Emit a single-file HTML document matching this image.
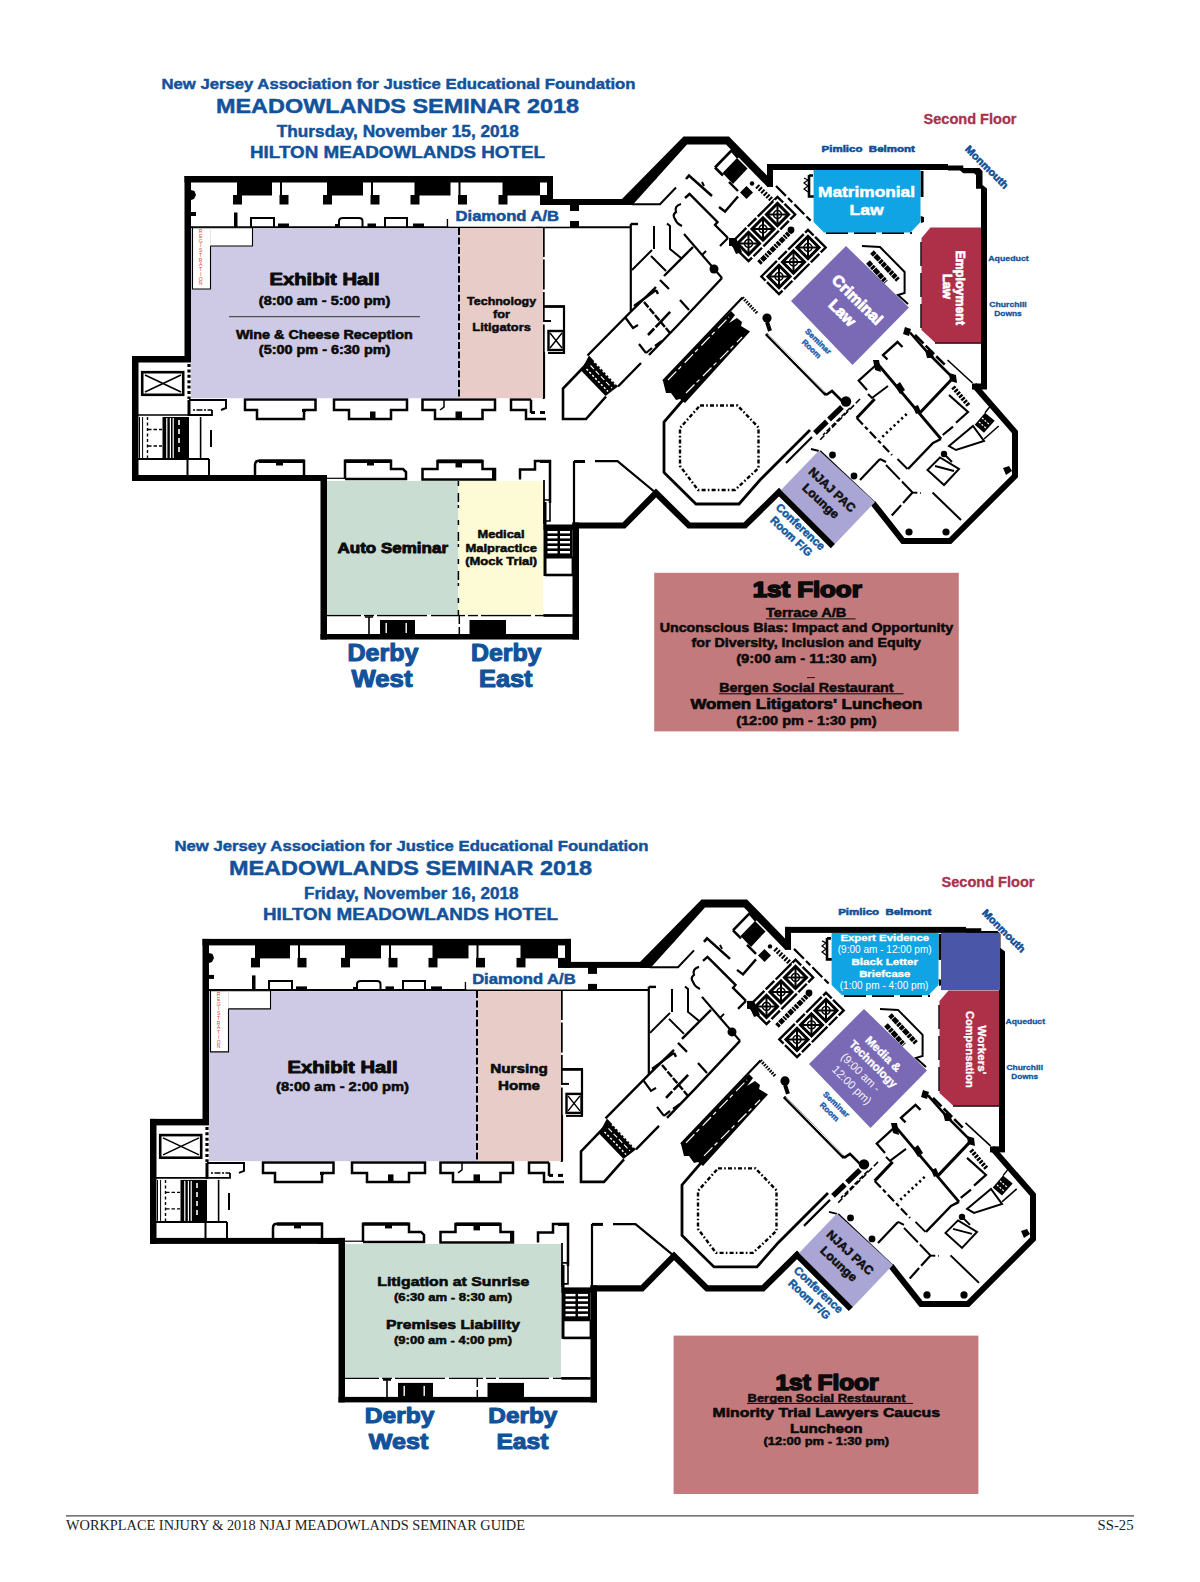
<!DOCTYPE html>
<html><head><meta charset="utf-8"><title>Meadowlands Seminar 2018 Floor Plans</title>
<style>
html,body{margin:0;padding:0;background:#fff;}
body{width:1200px;height:1582px;overflow:hidden;position:relative;font-family:"Liberation Sans",sans-serif;}
svg{position:absolute;left:0;top:0;display:block;}
svg{font-family:"Liberation Sans",sans-serif;}
</style></head><body>
<svg width="1200" height="1582" viewBox="0 0 1200 1582">
<defs>
<g id="elev"><rect x="-7.8" y="-7.8" width="15.6" height="15.6" fill="#fff" stroke="#000" stroke-width="3"/><path d="M-7,-7L7,7M-7,7L7,-7" stroke="#000" stroke-width="2"/><circle r="4" fill="none" stroke="#000" stroke-width="1.5"/></g>
<g id="plan">
<rect x="184.5" y="176" width="368.5" height="6.5" fill="#000"/>
<rect x="184.5" y="176" width="6.5" height="186" fill="#000"/>
<rect x="132" y="356" width="59" height="6.5" fill="#000"/>
<rect x="132" y="356" width="6.5" height="125" fill="#000"/>
<rect x="132" y="475" width="195" height="6" fill="#000"/>
<rect x="320.5" y="475" width="6.5" height="164.5" fill="#000"/>
<rect x="320.5" y="634" width="258.5" height="5.5" fill="#000"/>
<rect x="572.5" y="522.5" width="6.5" height="117.0" fill="#000"/>
<rect x="547" y="176" width="6" height="29" fill="#000"/>
<rect x="540" y="199" width="90" height="6" fill="#000"/>
<polygon points="622,199 683.5,136.5 729,136.5 767.5,176 767.5,187 726,144.5 687,144.5 632.5,205 622,205" fill="#000" />
<rect x="767" y="164" width="6" height="23" fill="#000"/>
<rect x="767" y="164" width="181" height="6" fill="#000"/>
<polygon points="948,165.4 963.3,165.4 963.3,168 979.5,168 982.5,171 982.5,185 987,188.5 987,389 981,389 981,188.8 976,188.8 976,175 974,173.3 963.3,173.3 960,170.6 948,170.6" fill="#000" />
<rect x="972" y="383.5" width="15" height="6.0" fill="#000"/>
<path d="M974,385 L1015,432 L1015,476 L950,541 L903,541 L873,503" fill="none" stroke="#000" stroke-width="6" stroke-linejoin="miter"/>
<path d="M572.5,525.5 L624,525.5 L656,493 L689,525.5 L745,525.5 L779,492 L833,546" fill="none" stroke="#000" stroke-width="6.2" stroke-linejoin="miter"/>
<rect x="237" y="182" width="35" height="13.5" fill="#000"/>
<rect x="233" y="195" width="9" height="9.5" fill="#000"/>
<rect x="279.5" y="195" width="9.0" height="9.5" fill="#000"/>
<path d="M281,182 L281,196" fill="none" stroke="#000" stroke-width="2" />
<rect x="327" y="182" width="36" height="13.5" fill="#000"/>
<rect x="323" y="195" width="9" height="9.5" fill="#000"/>
<rect x="370.5" y="195" width="9.0" height="9.5" fill="#000"/>
<path d="M372,182 L372,196" fill="none" stroke="#000" stroke-width="2" />
<rect x="414.5" y="182" width="36.0" height="13.5" fill="#000"/>
<rect x="410.5" y="195" width="9.0" height="9.5" fill="#000"/>
<rect x="458.0" y="195" width="9.0" height="9.5" fill="#000"/>
<path d="M459.5,182 L459.5,196" fill="none" stroke="#000" stroke-width="2" />
<rect x="502.5" y="182" width="37.5" height="13.5" fill="#000"/>
<rect x="498.5" y="195" width="9.0" height="9.5" fill="#000"/>
<rect x="540" y="195" width="13" height="9.5" fill="#000"/>
<polygon points="191,190 194.5,191 196,195 194,199 191,200" fill="#000" />
<rect x="191" y="212" width="5" height="4" fill="#000"/>
<rect x="234" y="212.5" width="3.5" height="14.5" fill="#000"/>
<path d="M251,227 L251,218 L274,218 L274,227" fill="none" stroke="#000" stroke-width="2" />
<rect x="278" y="223.5" width="11" height="4.0" fill="#000"/>
<path d="M339,227 L339,221 Q339,218 343,218 L359,218 Q362.5,218 362.5,221 L362.5,227" fill="none" stroke="#000" stroke-width="2" />
<rect x="335" y="224" width="4" height="3.5" fill="#000"/>
<rect x="367.5" y="223.5" width="8.5" height="4.0" fill="#000"/>
<path d="M385,227 L385,218 L407,218 L407,227" fill="none" stroke="#000" stroke-width="2" />
<rect x="413" y="223.5" width="11" height="4.0" fill="#000"/>
<path d="M447.5,219 L447.5,227" fill="none" stroke="#000" stroke-width="1.5" />
<path d="M191,227.2 L630,227.2" fill="none" stroke="#000" stroke-width="2" />
<rect x="570" y="204" width="9" height="7" fill="#000"/>
<rect x="570" y="221" width="9" height="7" fill="#000"/>
<rect x="536" y="222" width="5" height="5" fill="#000"/>
<rect x="142.2" y="372.2" width="41" height="22.6" fill="#fff" stroke="#000" stroke-width="2.6"/>
<path d="M145,375 L181,392 M145,392 L181,375" fill="none" stroke="#000" stroke-width="1.6" />
<path d="M138,415 L190,415" fill="none" stroke="#000" stroke-width="1.6" />
<rect x="162.5" y="417" width="26.5" height="41.5" fill="#000"/>
<rect x="166.2" y="418" width="1.2" height="40" fill="#fff"/>
<rect x="169.8" y="418" width="1.2" height="40" fill="#fff"/>
<rect x="172.6" y="418" width="1.2" height="40" fill="#fff"/>
<path d="M179,420 L179,456" stroke="#fff" stroke-width="1.6" stroke-dasharray="5,4" fill="none"/>
<path d="M139.5,417 L139.5,458 M142.6,417 L142.6,458" fill="none" stroke="#000" stroke-width="1" />
<path d="M147.5,417 L147.5,458" fill="none" stroke="#000" stroke-width="1.4" stroke-dasharray="3,2.5"/>
<path d="M148,429.5 L162,429.5 M148,446 L162,446" fill="none" stroke="#000" stroke-width="1.4" stroke-dasharray="3.5,2"/>
<path d="M138,459 L209,459" fill="none" stroke="#000" stroke-width="2" />
<path d="M187.5,459 L187.5,475 M209,459 L209,475" fill="none" stroke="#000" stroke-width="2" />
<path d="M200.6,417 L200.6,459" fill="none" stroke="#000" stroke-width="1.6" />
<path d="M189,400 L189,416" fill="none" stroke="#000" stroke-width="3" />
<path d="M189,400 L226,400 L226,408 L221,410" fill="none" stroke="#000" stroke-width="2" />
<path d="M189,415 L212,415 L212,410" fill="none" stroke="#000" stroke-width="1.8" />
<path d="M193,410 L212,410" fill="none" stroke="#000" stroke-width="1.5" stroke-dasharray="2,1.5,6,1.5"/>
<path d="M211,430 L211,447" fill="none" stroke="#000" stroke-width="2" />
<path d="M189,364 L189,399" stroke="#000" stroke-width="3.2" stroke-dasharray="3,2.4" fill="none"/>
<path d="M245,399.6 L315.5,399.6 L315.5,410 L304,410 L304,419 L257,419 L257,410 L245,410 Z" fill="none" stroke="#000" stroke-width="2.5" />
<rect x="302" y="409" width="4" height="3" fill="#000"/>
<path d="M334,399.6 L407,399.6 L407,410 L391,410 L391,419 L349,419 L349,410 L334,410 Z" fill="none" stroke="#000" stroke-width="2.5" />
<rect x="370" y="411.5" width="5.5" height="7.5" fill="#000"/>
<path d="M422.5,399.6 L495,399.6 L495,410 L482.5,410 L482.5,419 L435,419 L435,410 L422.5,410 Z" fill="none" stroke="#000" stroke-width="2.5" />
<path d="M444,400 L444,407 L440,410" fill="none" stroke="#000" stroke-width="1.5" />
<rect x="455.5" y="411.5" width="6.5" height="7.5" fill="#000"/>
<path d="M531,399.6 L511,399.6 L511,410 L526,410 L526,419 L546,419" fill="none" stroke="#000" stroke-width="2.5" />
<path d="M531,399.6 L531,413" fill="none" stroke="#000" stroke-width="2.5" />
<rect x="531" y="411" width="4" height="3" fill="#000"/>
<rect x="540" y="411" width="5" height="3" fill="#000"/>
<path d="M255,475 L255,465 Q255,460.8 259,460.8 L304,460.8 L304,475" fill="none" stroke="#000" stroke-width="2.5" />
<rect x="276" y="460.5" width="7" height="5.0" fill="#000"/>
<path d="M345,479 L345,460.8 L391,460.8 L391,469 L403,469 L406,472 L406,479 L345,479" fill="none" stroke="#000" stroke-width="2.5" />
<rect x="367" y="460.5" width="7" height="5.0" fill="#000"/>
<path d="M422.5,479.5 L422.5,469 L437.5,469 L437.5,461 L482.5,461 L482.5,469 L495,469 L495,479.5 Z" fill="none" stroke="#000" stroke-width="2.5" />
<rect x="455.5" y="461" width="6.5" height="6.5" fill="#000"/>
<path d="M437.5,461.4 L482.5,461.4" fill="none" stroke="#000" stroke-width="3.6" />
<path d="M259,461.2 L304,461.2" fill="none" stroke="#000" stroke-width="3.4" />
<path d="M345,461.2 L391,461.2" fill="none" stroke="#000" stroke-width="3.4" />
<rect x="492" y="469" width="4" height="11" fill="#000"/>
<path d="M520,479.5 L520,469.5 L535,469.5 L535,461 L550,461 L550,503" fill="none" stroke="#000" stroke-width="2.5" />
<rect x="540" y="460" width="11" height="3" fill="#000"/>
<rect x="300" y="476" width="27" height="5" fill="#000"/>
<path d="M327,478.3 L345,478.3" fill="none" stroke="#000" stroke-width="1.2" />
<path d="M327,615.3 L572.5,615.3" fill="none" stroke="#000" stroke-width="1.8" stroke-dasharray="34,3,10,3,50,4"/>
<rect x="380" y="620" width="35" height="14.5" fill="#000"/>
<rect x="469.5" y="620" width="36.5" height="14.5" fill="#000"/>
<rect x="385.5" y="623" width="1.4" height="10" fill="#fff"/><rect x="405.5" y="623" width="1.4" height="10" fill="#fff"/>
<path d="M365,617 L373,617 M369,617 L369,634" fill="none" stroke="#000" stroke-width="1.6" />
<path d="M459.3,616 L459.3,634" fill="none" stroke="#000" stroke-width="1.5" stroke-dasharray="8,3"/>
<path d="M544,480 L544,524" fill="none" stroke="#000" stroke-width="1.8" />
<path d="M544,500 L550,500 M544,521 L550,521 L550,503" fill="none" stroke="#000" stroke-width="1.6" />
<rect x="545" y="527.5" width="27.5" height="30" fill="#000"/>
<rect x="547.5" y="531" width="10" height="2.4" fill="#fff"/><rect x="560" y="531" width="10" height="2.4" fill="#fff"/>
<rect x="547.5" y="536" width="10" height="2.4" fill="#fff"/><rect x="560" y="536" width="10" height="2.4" fill="#fff"/>
<rect x="547.5" y="541" width="10" height="2.4" fill="#fff"/><rect x="560" y="541" width="10" height="2.4" fill="#fff"/>
<rect x="547.5" y="546" width="10" height="2.4" fill="#fff"/><rect x="560" y="546" width="10" height="2.4" fill="#fff"/>
<rect x="547.5" y="551" width="10" height="2.4" fill="#fff"/><rect x="560" y="551" width="10" height="2.4" fill="#fff"/>
<path d="M545,557.5 L572.5,557.5 L572.5,575 L545,575" fill="none" stroke="#000" stroke-width="1.8" />
<rect x="543.5" y="524.5" width="35.5" height="5.5" fill="#000"/>
<rect x="543.5" y="502" width="3.0" height="74" fill="#000"/>
<path d="M545,575 L573,575" fill="none" stroke="#000" stroke-width="2.6" />
<path d="M543.5,615.5 L572.5,615.5" fill="none" stroke="#000" stroke-width="2.6" />
<path d="M543.7,227 L543.7,399" fill="none" stroke="#000" stroke-width="2" stroke-dasharray="30,2.5"/>
<path d="M544,306.5 L565,306.5" fill="none" stroke="#000" stroke-width="2.8" />
<path d="M564,306 L564,353" fill="none" stroke="#000" stroke-width="2.2" />
<rect x="548.5" y="331" width="15" height="19" fill="#fff" stroke="#000" stroke-width="2.4"/>
<path d="M550,333 L562,348 M550,348 L562,333" fill="none" stroke="#000" stroke-width="1.5" />
<path d="M544,321 L551,321" fill="none" stroke="#000" stroke-width="2" />
<path d="M548,353 L565,353" fill="none" stroke="#000" stroke-width="2" />
<path d="M544,352 L544,398" fill="none" stroke="#000" stroke-width="2.2" />
<path d="M632,204.3 L660,204.3 L676,187.5" fill="none" stroke="#000" stroke-width="2" />
<path d="M630.8,223.8 L630.8,311" fill="none" stroke="#000" stroke-width="2.2" />
<path d="M630.8,224 L638,224" fill="none" stroke="#000" stroke-width="2.4" />
<path d="M654,226 L654,249" fill="none" stroke="#000" stroke-width="2" />
<path d="M667,223.5 L670,226 L670,249 L681,258" fill="none" stroke="#000" stroke-width="2" />
<path d="M589.5,361 L563,388.5 L563,419 L586,419 L606,396.5" fill="none" stroke="#000" stroke-width="2.6" stroke-linejoin="miter"/>
<polygon points="589,355.5 618,386.5 605.5,396 581,370.5" fill="#000" />
<path d="M586.5,369 L608,391.5 M594,361.5 L615.5,384.5" stroke="#fff" stroke-width="1.5" stroke-dasharray="2.2,2" fill="none"/>
<path d="M590.5,365.5 L612,388" stroke="#fff" stroke-width="1.1" stroke-dasharray="5,2.5" fill="none"/>
<path d="M587.5,355.5 L631,311.5 L656,287" fill="none" stroke="#000" stroke-width="2.4" />
<path d="M618,386.5 L641,363 M649,355 L677,326 L722,278" fill="none" stroke="#000" stroke-width="2.4" />
<path d="M632,270 L652,250 M651,256 L666,271" fill="none" stroke="#000" stroke-width="2" />
<path d="M664,276 L693,247" fill="none" stroke="#000" stroke-width="2.4" />
<path d="M684,234 L722,278" fill="none" stroke="#000" stroke-width="2.2" />
<circle cx="714" cy="269" r="4.5" fill="#000"/>
<path d="M660,280 L669,289" fill="none" stroke="#000" stroke-width="2.2" />
<path d="M634,306 L656,290 M656,290 L658,294" fill="none" stroke="#000" stroke-width="2.4" />
<path d="M644,302 L670,333" fill="none" stroke="#000" stroke-width="2.4" stroke-dasharray="7,1.5"/>
<path d="M648,335 L671,311" fill="none" stroke="#000" stroke-width="2.6" stroke-dasharray="9,2,12,0"/>
<path d="M625,317 L633,328 L638,325" fill="none" stroke="#000" stroke-width="2.2" />
<path d="M639,344 L646,353 M646,353 L652,348 M655,346 L662,341" fill="none" stroke="#000" stroke-width="2.2" />
<path d="M680,300 L689,310" fill="none" stroke="#000" stroke-width="2.2" />
<polygon points="737,158 747.5,168.5 733,184 722.5,173" fill="#000" />
<path d="M715,167.5 L731.5,150.5 L738,158 M715,167.5 L723,175.5" fill="none" stroke="#000" stroke-width="2.6" />
<path d="M729,182 L738,191" fill="none" stroke="#000" stroke-width="2.4" />
<polygon points="746.5,186 753,192.5 746.5,199 740,192.5" fill="#000" />
<path d="M738,196.5 L725,211.5 L719,207" fill="none" stroke="#000" stroke-width="2.4" />
<path d="M686,179 L689,175.5 L712,196" fill="none" stroke="#000" stroke-width="2.6" />
<path d="M702,182 L704,186" fill="none" stroke="#000" stroke-width="2" />
<path d="M685,198 L689.5,194 L717.5,222 L715,225 L728,238" fill="none" stroke="#000" stroke-width="2.4" />
<path d="M681,204 Q674,206 676,212 Q672,215 675,219 Q677,224 682,226" fill="none" stroke="#000" stroke-width="2.2" />
<path d="M706,251 L702,255" fill="none" stroke="#000" stroke-width="2" />
<path d="M728,238 L720,246 M733,243 L738,238" fill="none" stroke="#000" stroke-width="2.2" />
<rect x="729" y="238" width="7" height="8" fill="#000"/>
<polygon points="646,176 653,172 657,178 650,184" fill="#000" />
<polygon points="640,186 645,183 647,188 642,191" fill="#000" />
<circle cx="752" cy="183.5" r="2.2" fill="#000"/>
<path d="M757,186 L774,202" fill="none" stroke="#000" stroke-width="5" stroke-dasharray="2,1.5"/>
<path d="M776,186 L812,222" fill="none" stroke="#000" stroke-width="2.2" stroke-dasharray="14,3,6,3"/>
<g transform="translate(763,229) rotate(-45)"><rect x="-33" y="-12.5" width="66" height="25" fill="#fff" stroke="#000" stroke-width="2.4" stroke-dasharray="22,2,12,2"/><use href="#elev" x="-20.5"/><use href="#elev" x="0"/><use href="#elev" x="20.5"/></g>
<g transform="translate(793.5,262) rotate(-45)"><rect x="-33" y="-12.5" width="66" height="25" fill="#fff" stroke="#000" stroke-width="2.4" stroke-dasharray="22,2,12,2"/><use href="#elev" x="-20.5"/><use href="#elev" x="0"/><use href="#elev" x="20.5"/></g>
<path d="M759,263 L792,230" fill="none" stroke="#000" stroke-width="5" stroke-dasharray="3,1,5,1,2,1"/>
<circle cx="791" cy="230" r="3.4" fill="#000"/>
<polygon points="731,243 736,238 742,252 736,254" fill="#000" />
<path d="M809,175 L809,196.5 L814,196.5 M809,175.5 L813,175.5" fill="none" stroke="#000" stroke-width="2.6" />
<path d="M804,178 L808,180 L804,183 L808,186 L804,189 L808,192" fill="none" stroke="#000" stroke-width="1.2" />
<path d="M922,171 L922,197" fill="none" stroke="#000" stroke-width="3" />
<polygon points="920.5,216 924,217 924,222 921,223" fill="#000" />
<path d="M826,233 L912,233" fill="none" stroke="#000" stroke-width="2.2" stroke-dasharray="22,6"/>
<path d="M921.5,242 L921.5,330" fill="none" stroke="#000" stroke-width="2.4" stroke-dasharray="24,7"/>
<path d="M935,342.8 L981,342.8" fill="none" stroke="#000" stroke-width="2" />
<path d="M862,246 L880,247 L904.6,272 L904.6,293 L898,295 L908,304" fill="none" stroke="#000" stroke-width="2" />
<path d="M872,252 L898,280" fill="none" stroke="#000" stroke-width="5" stroke-dasharray="4,0.8,6,0.8,3,0.8"/>
<path d="M868,262 L886,282" fill="none" stroke="#000" stroke-width="5" stroke-dasharray="5,0.8,3,0.8,6,0.8"/>
<polygon points="663,381 731,311 735,315 729,323 737,318 742,322 741,326 750,331.5 685,403 680,399 676,400 671,393 666,393" fill="#000" />
<path d="M668,380 L729,317 M686,393 L742,337" stroke="#fff" stroke-width="1.2" stroke-dasharray="12,3,4,5" fill="none"/>
<path d="M742.5,297.5 L663,381" fill="none" stroke="#000" stroke-width="2.2" />
<path d="M742.5,297.5 L757,313" fill="none" stroke="#000" stroke-width="3.2" stroke-dasharray="1.6,1.2"/>
<circle cx="767" cy="318" r="4.6" fill="#000"/>
<path d="M767,322 L770,331" fill="none" stroke="#000" stroke-width="4" />
<path d="M766,334 L826,395" fill="none" stroke="#000" stroke-width="3" />
<path d="M768,334.5 L825,392.5" stroke="#fff" stroke-width="1" fill="none"/>
<path d="M826,395 L832,391 L843,402" fill="none" stroke="#000" stroke-width="2.6" />
<circle cx="846" cy="401.5" r="5.2" fill="#000"/>
<path d="M842,407 L815,433" fill="none" stroke="#000" stroke-width="5.4" stroke-dasharray="18,3"/>
<path d="M850,408 L823,435" fill="none" stroke="#000" stroke-width="1.6" stroke-dasharray="5,2"/>
<path d="M810,430 L760,480 L739,504 L696,504 L664,472.5 L664,422 L683,400" fill="none" stroke="#000" stroke-width="2.8" stroke-linejoin="miter"/>
<path d="M700,405.5 L737.5,405.5 L758.5,427.5 L758.5,468 L735,490 L698,490 L680,466 L680,428 Z" fill="none" stroke="#000" stroke-width="2.4" stroke-dasharray="4,2.2,1.6,2.2"/>
<path d="M574,461 L574,525" fill="none" stroke="#000" stroke-width="2.2" />
<path d="M574,461.5 L585,461.5" fill="none" stroke="#000" stroke-width="3" />
<path d="M595,461.2 L617.5,461.2 L656,493" fill="none" stroke="#000" stroke-width="2.2" />
<path d="M812,437 L786,463" fill="none" stroke="#000" stroke-width="2.2" />
<path d="M860,399 L820,440" fill="none" stroke="#000" stroke-width="1.6" stroke-dasharray="6,2.5"/>
<path d="M811,449 L819,451" fill="none" stroke="#000" stroke-width="2" />
<circle cx="832.5" cy="455" r="3.4" fill="#000"/><circle cx="854" cy="476" r="3.4" fill="#000"/>
<path d="M820,451 L875,503" fill="none" stroke="#000" stroke-width="2" />
<path d="M876,362 L941,439" fill="none" stroke="#000" stroke-width="2.8" />
<polygon points="873,360 879,360 881,372 875,370" fill="#000" />
<polygon points="895,386 900,382 905,390 900,394" fill="#000" />
<polygon points="913,407 918,405 921,412 916,414" fill="#000" />
<path d="M876,365 L858.7,380.7 L867,390" fill="none" stroke="#000" stroke-width="2.2" />
<path d="M888,386 L872,398 L868,394" fill="none" stroke="#000" stroke-width="2" />
<path d="M874.7,399 L856.7,418" fill="none" stroke="#000" stroke-width="3" />
<path d="M856.7,418 L892,455" fill="none" stroke="#000" stroke-width="2.2" stroke-dasharray="9,3,4,3"/>
<path d="M906.7,414 L880,439" fill="none" stroke="#000" stroke-width="2.6" stroke-dasharray="2.2,3"/>
<path d="M887.5,359.5 L883,355 L897.5,342 L902.5,347" fill="none" stroke="#000" stroke-width="2.4" />
<polygon points="905,327 911,329 909,336 903,334" fill="#000" />
<path d="M910,332.5 L929,354 L953,378" fill="none" stroke="#000" stroke-width="2.6" />
<polygon points="925,350 932,350 934,358 927,358" fill="#000" />
<polygon points="949,373 956,375 957,383 950,381" fill="#000" />
<path d="M953,378 L920,412.7" fill="none" stroke="#000" stroke-width="3" />
<path d="M915,335 L945,365" fill="none" stroke="#000" stroke-width="2.6" stroke-dasharray="12,3"/>
<path d="M947.5,360 L972.5,383" fill="none" stroke="#000" stroke-width="1.6" />
<path d="M949,395 L968,412 L956,422.7 M953,426.7 L942.7,435" fill="none" stroke="#000" stroke-width="2.2" />
<path d="M953,387 L969,406" fill="none" stroke="#000" stroke-width="4.6" stroke-dasharray="2.4,1.2"/>
<path d="M949,446 L973,426 L984,441 L956,450 Z" fill="none" stroke="#000" stroke-width="2" />
<polygon points="974.7,424.7 985,412.7 994.7,420.7 984,432.7" fill="#000" />
<path d="M979,422 L987,429 M982,418 L990,425" stroke="#fff" stroke-width="1.2" stroke-dasharray="2,1.5" fill="none"/>
<path d="M984,439 L998.7,426" fill="none" stroke="#000" stroke-width="1.6" />
<path d="M985,412.7 L992,404" fill="none" stroke="#000" stroke-width="1.5" />
<polygon points="1003,468 1009,466 1012,471 1006,475" fill="#000" />
<path d="M941,439 L933,443 L908,469" fill="none" stroke="#000" stroke-width="2.4" />
<path d="M897.5,459 L907.5,469" fill="none" stroke="#000" stroke-width="2" />
<circle cx="944" cy="454" r="3.2" fill="#000"/>
<path d="M944,454 L952,462" fill="none" stroke="#000" stroke-width="2" />
<path d="M880,459 L860,480" fill="none" stroke="#000" stroke-width="2.2" />
<path d="M880,459 L886,462" fill="none" stroke="#000" stroke-width="2" />
<path d="M886,465 L912.5,492.5 L921,493" fill="none" stroke="#000" stroke-width="2" stroke-dasharray="20,3"/>
<path d="M912.5,492.5 L890,517.5" fill="none" stroke="#000" stroke-width="2.2" stroke-dasharray="14,3"/>
<path d="M932.5,492.5 L961,520" fill="none" stroke="#000" stroke-width="2" />
<path d="M927.5,470 L940,457.5 L959,469 L944,485 Z M935,466 L954,471" fill="none" stroke="#000" stroke-width="2" />
<circle cx="909" cy="532" r="3.6" fill="#000"/><circle cx="946" cy="532" r="3.6" fill="#000"/>
</g>
</defs>
<g transform="translate(0,0)">
<use href="#plan"/>
<rect x="191" y="228.2" width="268.3" height="170" fill="#cecae5"/>
<rect x="459.3" y="228.2" width="83.7" height="170" fill="#e7ccc8"/>
<path d="M459,228 L459,398" stroke="#000" stroke-width="2" stroke-dasharray="7,2.5" fill="none"/>
<polygon points="192.5,227.8 252.5,227.8 252.5,246 210.5,246 210.5,289 192.5,289" fill="#fff" stroke="#000" stroke-width="1.1"/>
<path d="M210.5,228.5 L210.5,245.5" stroke="#e4e4e4" stroke-width="1"/>
<text x="200.6" y="233.2" font-size="5" text-anchor="middle" fill="#d4472b" font-weight="normal">R</text>
<text x="200.6" y="237.9" font-size="5" text-anchor="middle" fill="#d4472b" font-weight="normal">E</text>
<text x="200.6" y="242.7" font-size="5" text-anchor="middle" fill="#d4472b" font-weight="normal">G</text>
<text x="200.6" y="247.4" font-size="5" text-anchor="middle" fill="#d4472b" font-weight="normal">I</text>
<text x="200.6" y="252.2" font-size="5" text-anchor="middle" fill="#d4472b" font-weight="normal">S</text>
<text x="200.6" y="256.9" font-size="5" text-anchor="middle" fill="#d4472b" font-weight="normal">T</text>
<text x="200.6" y="261.7" font-size="5" text-anchor="middle" fill="#d4472b" font-weight="normal">R</text>
<text x="200.6" y="266.4" font-size="5" text-anchor="middle" fill="#d4472b" font-weight="normal">A</text>
<text x="200.6" y="271.2" font-size="5" text-anchor="middle" fill="#d4472b" font-weight="normal">T</text>
<text x="200.6" y="275.9" font-size="5" text-anchor="middle" fill="#d4472b" font-weight="normal">I</text>
<text x="200.6" y="280.7" font-size="5" text-anchor="middle" fill="#d4472b" font-weight="normal">O</text>
<text x="200.6" y="285.4" font-size="5" text-anchor="middle" fill="#d4472b" font-weight="normal">N</text>
<rect x="448.5" y="206" width="121.5" height="20.6" fill="#fff"/>
<text x="507.3" y="220.6" font-size="14.6" text-anchor="middle" fill="#12529a" font-weight="bold" font-family="Liberation Sans" textLength="103.5" lengthAdjust="spacingAndGlyphs" stroke="#12529a" stroke-width="0.5" stroke-linejoin="round" >Diamond A/B</text>
<text x="383" y="660.7" font-size="23" text-anchor="middle" fill="#12529a" font-weight="bold" font-family="Liberation Sans" textLength="71" lengthAdjust="spacingAndGlyphs" stroke="#12529a" stroke-width="1.1" stroke-linejoin="round" >Derby</text>
<text x="382" y="686.8" font-size="23" text-anchor="middle" fill="#12529a" font-weight="bold" font-family="Liberation Sans" textLength="61" lengthAdjust="spacingAndGlyphs" stroke="#12529a" stroke-width="1.1" stroke-linejoin="round" >West</text>
<text x="506.2" y="660.7" font-size="23" text-anchor="middle" fill="#12529a" font-weight="bold" font-family="Liberation Sans" textLength="70.5" lengthAdjust="spacingAndGlyphs" stroke="#12529a" stroke-width="1.1" stroke-linejoin="round" >Derby</text>
<text x="505.8" y="686.8" font-size="23" text-anchor="middle" fill="#12529a" font-weight="bold" font-family="Liberation Sans" textLength="53.5" lengthAdjust="spacingAndGlyphs" stroke="#12529a" stroke-width="1.1" stroke-linejoin="round" >East</text>
<text x="970" y="123.8" font-size="13.8" text-anchor="middle" fill="#a7324d" font-weight="bold" font-family="Liberation Sans" textLength="93" lengthAdjust="spacingAndGlyphs" stroke="#a7324d" stroke-width="0.3" stroke-linejoin="round" >Second Floor</text>
<text x="868.2" y="152" font-size="9.4" text-anchor="middle" fill="#0f4f98" font-weight="bold" font-family="Liberation Sans" textLength="93.2" lengthAdjust="spacingAndGlyphs" stroke="#0f4f98" stroke-width="0.55" stroke-linejoin="round" >Pimlico&#160;&#160;Belmont</text>
<g transform="translate(987.0,167.0) rotate(45)"><text x="0" y="3.67" font-size="10.2" text-anchor="middle" fill="#0f4f98" font-weight="bold" font-family="Liberation Sans" textLength="56" lengthAdjust="spacingAndGlyphs" stroke="#0f4f98" stroke-width="0.55" stroke-linejoin="round" >Monmouth</text></g>
<text x="1008.5" y="261" font-size="7.8" text-anchor="middle" fill="#12529a" font-weight="bold" font-family="Liberation Sans" textLength="40.5" lengthAdjust="spacingAndGlyphs" stroke="#12529a" stroke-width="0.3" stroke-linejoin="round" >Aqueduct</text>
<text x="1008.0" y="307" font-size="7.8" text-anchor="middle" fill="#12529a" font-weight="bold" font-family="Liberation Sans" textLength="37.5" lengthAdjust="spacingAndGlyphs" stroke="#12529a" stroke-width="0.3" stroke-linejoin="round" >Churchill</text>
<text x="1008.0" y="316" font-size="7.8" text-anchor="middle" fill="#12529a" font-weight="bold" font-family="Liberation Sans" textLength="27.5" lengthAdjust="spacingAndGlyphs" stroke="#12529a" stroke-width="0.3" stroke-linejoin="round" >Downs</text>
<g transform="translate(818.4,341.3) rotate(44)"><text x="0" y="2.81" font-size="7.8" text-anchor="middle" fill="#1a5cae" font-weight="bold" font-family="Liberation Sans" textLength="33" lengthAdjust="spacingAndGlyphs" stroke="#1a5cae" stroke-width="0.4" stroke-linejoin="round" >Seminar</text></g>
<g transform="translate(811.6,348.8) rotate(44)"><text x="0" y="2.81" font-size="7.8" text-anchor="middle" fill="#1a5cae" font-weight="bold" font-family="Liberation Sans" textLength="23.5" lengthAdjust="spacingAndGlyphs" stroke="#1a5cae" stroke-width="0.4" stroke-linejoin="round" >Room</text></g>
<polygon points="819,450.5 875,502 835,544 781,490" fill="#a9a5d4"/>
<g transform="translate(832.3,489.6) rotate(43)"><text x="0" y="4.39" font-size="12.2" text-anchor="middle" fill="#111" font-weight="bold" font-family="Liberation Sans" textLength="59" lengthAdjust="spacingAndGlyphs" stroke="#111" stroke-width="0.55" stroke-linejoin="round" >NJAJ PAC</text></g>
<g transform="translate(821,500.8) rotate(43)"><text x="0" y="4.39" font-size="12.2" text-anchor="middle" fill="#111" font-weight="bold" font-family="Liberation Sans" textLength="45" lengthAdjust="spacingAndGlyphs" stroke="#111" stroke-width="0.55" stroke-linejoin="round" >Lounge</text></g>
<g transform="translate(800.6,526.6) rotate(43)"><text x="0" y="4.1" font-size="11.4" text-anchor="middle" fill="#125a9f" font-weight="bold" font-family="Liberation Sans" textLength="62.5" lengthAdjust="spacingAndGlyphs" stroke="#125a9f" stroke-width="0.5" stroke-linejoin="round" >Conference</text></g>
<g transform="translate(791.5,536.2) rotate(43)"><text x="0" y="4.1" font-size="11.4" text-anchor="middle" fill="#125a9f" font-weight="bold" font-family="Liberation Sans" textLength="52.5" lengthAdjust="spacingAndGlyphs" stroke="#125a9f" stroke-width="0.5" stroke-linejoin="round" >Room F/G</text></g>
<polygon points="930.5,227.6 981,227.6 981,342.6 935,342.6 921.5,330 921.5,238" fill="#ae2f48"/>
<polygon points="846,246 909,307.5 852.5,365 791,301" fill="#7a69b4"/>
<polygon points="813.6,170 920.5,170 920.5,222 910.5,232.4 824,232.4 813.6,222" fill="#10a4e4"/>
<rect x="327" y="481" width="131.4" height="133.8" fill="#c9ddd3"/>
<rect x="458.4" y="481" width="84.6" height="133.8" fill="#fdfbd6"/>
<path d="M458.4,481 L458.4,615" stroke="#000" stroke-width="1.5" stroke-dasharray="5,7,9,3,3,12" fill="none"/>
<text x="324.5" y="285" font-size="16.2" text-anchor="middle" fill="#0b0b0b" font-weight="bold" font-family="Liberation Sans" textLength="110" lengthAdjust="spacingAndGlyphs" stroke="#0b0b0b" stroke-width="0.9" stroke-linejoin="round" >Exhibit Hall</text>
<text x="324.6" y="305" font-size="12" text-anchor="middle" fill="#0b0b0b" font-weight="bold" font-family="Liberation Sans" textLength="131.5" lengthAdjust="spacingAndGlyphs" stroke="#0b0b0b" stroke-width="0.55" stroke-linejoin="round" >(8:00 am - 5:00 pm)</text>
<path d="M229,316.7 L420,316.7" stroke="#222" stroke-width="0.9"/>
<text x="324.4" y="338.8" font-size="12" text-anchor="middle" fill="#0b0b0b" font-weight="bold" font-family="Liberation Sans" textLength="177" lengthAdjust="spacingAndGlyphs" stroke="#0b0b0b" stroke-width="0.55" stroke-linejoin="round" >Wine &amp; Cheese Reception</text>
<text x="324.6" y="353.8" font-size="12" text-anchor="middle" fill="#0b0b0b" font-weight="bold" font-family="Liberation Sans" textLength="131.5" lengthAdjust="spacingAndGlyphs" stroke="#0b0b0b" stroke-width="0.55" stroke-linejoin="round" >(5:00 pm - 6:30 pm)</text>
<text x="501.6" y="304.5" font-size="11.6" text-anchor="middle" fill="#0b0b0b" font-weight="bold" font-family="Liberation Sans" textLength="69" lengthAdjust="spacingAndGlyphs" stroke="#0b0b0b" stroke-width="0.5" stroke-linejoin="round" >Technology</text>
<text x="501.6" y="317.6" font-size="11.6" text-anchor="middle" fill="#0b0b0b" font-weight="bold" font-family="Liberation Sans" textLength="17" lengthAdjust="spacingAndGlyphs" stroke="#0b0b0b" stroke-width="0.5" stroke-linejoin="round" >for</text>
<text x="501.6" y="331" font-size="11.6" text-anchor="middle" fill="#0b0b0b" font-weight="bold" font-family="Liberation Sans" textLength="58.5" lengthAdjust="spacingAndGlyphs" stroke="#0b0b0b" stroke-width="0.5" stroke-linejoin="round" >Litigators</text>
<text x="392.8" y="553" font-size="15.2" text-anchor="middle" fill="#0b0b0b" font-weight="bold" font-family="Liberation Sans" textLength="110.5" lengthAdjust="spacingAndGlyphs" stroke="#0b0b0b" stroke-width="0.9" stroke-linejoin="round" >Auto Seminar</text>
<text x="501" y="538" font-size="11" text-anchor="middle" fill="#0b0b0b" font-weight="bold" font-family="Liberation Sans" textLength="47" lengthAdjust="spacingAndGlyphs" stroke="#0b0b0b" stroke-width="0.5" stroke-linejoin="round" >Medical</text>
<text x="501.2" y="551.8" font-size="11" text-anchor="middle" fill="#0b0b0b" font-weight="bold" font-family="Liberation Sans" textLength="71.5" lengthAdjust="spacingAndGlyphs" stroke="#0b0b0b" stroke-width="0.5" stroke-linejoin="round" >Malpractice</text>
<text x="501.2" y="565" font-size="11" text-anchor="middle" fill="#0b0b0b" font-weight="bold" font-family="Liberation Sans" textLength="72" lengthAdjust="spacingAndGlyphs" stroke="#0b0b0b" stroke-width="0.5" stroke-linejoin="round" >(Mock Trial)</text>
<text x="866.5" y="197" font-size="15.4" text-anchor="middle" fill="#fff" font-weight="bold" font-family="Liberation Sans" textLength="97" lengthAdjust="spacingAndGlyphs" stroke="#fff" stroke-width="0.5" stroke-linejoin="round" >Matrimonial</text>
<text x="866.5" y="215" font-size="15.4" text-anchor="middle" fill="#fff" font-weight="bold" font-family="Liberation Sans" textLength="34" lengthAdjust="spacingAndGlyphs" stroke="#fff" stroke-width="0.5" stroke-linejoin="round" >Law</text>
<g transform="translate(857.5,299.5) rotate(44.5)"><text x="0" y="5.62" font-size="15.6" text-anchor="middle" fill="#fff" font-weight="bold" font-family="Liberation Sans" textLength="64" lengthAdjust="spacingAndGlyphs" stroke="#fff" stroke-width="0.85" stroke-linejoin="round" >Criminal</text></g>
<g transform="translate(842.5,312.5) rotate(44.5)"><text x="0" y="5.62" font-size="15.6" text-anchor="middle" fill="#fff" font-weight="bold" font-family="Liberation Sans" textLength="31" lengthAdjust="spacingAndGlyphs" stroke="#fff" stroke-width="0.85" stroke-linejoin="round" >Law</text></g>
<g transform="translate(960.8,287.8) rotate(90)"><text x="0" y="4.75" font-size="13.2" text-anchor="middle" fill="#fff" font-weight="bold" font-family="Liberation Sans" textLength="74.5" lengthAdjust="spacingAndGlyphs" stroke="#fff" stroke-width="0.75" stroke-linejoin="round" >Employment</text></g>
<g transform="translate(947.6,286.5) rotate(90)"><text x="0" y="4.75" font-size="13.2" text-anchor="middle" fill="#fff" font-weight="bold" font-family="Liberation Sans" textLength="25" lengthAdjust="spacingAndGlyphs" stroke="#fff" stroke-width="0.75" stroke-linejoin="round" >Law</text></g>
</g>
<text x="398.5" y="88.8" font-size="14.6" text-anchor="middle" fill="#12529a" font-weight="bold" font-family="Liberation Sans" textLength="474" lengthAdjust="spacingAndGlyphs" stroke="#12529a" stroke-width="0.45" stroke-linejoin="round" >New Jersey Association for Justice Educational Foundation</text>
<text x="397.5" y="113" font-size="20" text-anchor="middle" fill="#12529a" font-weight="bold" font-family="Liberation Sans" textLength="363" lengthAdjust="spacingAndGlyphs" stroke="#12529a" stroke-width="0.45" stroke-linejoin="round" >MEADOWLANDS SEMINAR 2018</text>
<text x="397.8" y="136.7" font-size="15.6" text-anchor="middle" fill="#12529a" font-weight="bold" font-family="Liberation Sans" textLength="242" lengthAdjust="spacingAndGlyphs" stroke="#12529a" stroke-width="0.45" stroke-linejoin="round" >Thursday, November 15, 2018</text>
<text x="397.5" y="157.5" font-size="16.4" text-anchor="middle" fill="#12529a" font-weight="bold" font-family="Liberation Sans" textLength="295" lengthAdjust="spacingAndGlyphs" stroke="#12529a" stroke-width="0.45" stroke-linejoin="round" >HILTON MEADOWLANDS HOTEL</text>
<rect x="654.2" y="572.8" width="304.6" height="158.6" fill="#c27a7d"/>
<text x="807.2" y="597.4" font-size="22.5" text-anchor="middle" fill="#0b0b0b" font-weight="bold" font-family="Liberation Sans" textLength="109" lengthAdjust="spacingAndGlyphs" stroke="#0b0b0b" stroke-width="1.7" stroke-linejoin="round" >1st Floor</text>
<text x="806.2" y="616.7" font-size="12" text-anchor="middle" fill="#0b0b0b" font-weight="bold" font-family="Liberation Sans" textLength="80.5" lengthAdjust="spacingAndGlyphs" stroke="#0b0b0b" stroke-width="0.5" stroke-linejoin="round" >Terrace A/B</text>
<path d="M766,618.9 L855.5,618.9" stroke="#0b0b0b" stroke-width="1"/>
<text x="806.4" y="632.4" font-size="12" text-anchor="middle" fill="#0b0b0b" font-weight="bold" font-family="Liberation Sans" textLength="293.5" lengthAdjust="spacingAndGlyphs" stroke="#0b0b0b" stroke-width="0.5" stroke-linejoin="round" >Unconscious Bias: Impact and Opportunity</text>
<text x="806.3" y="647.2" font-size="12" text-anchor="middle" fill="#0b0b0b" font-weight="bold" font-family="Liberation Sans" textLength="229.5" lengthAdjust="spacingAndGlyphs" stroke="#0b0b0b" stroke-width="0.5" stroke-linejoin="round" >for Diversity, Inclusion and Equity</text>
<text x="806.4" y="662.8" font-size="12" text-anchor="middle" fill="#0b0b0b" font-weight="bold" font-family="Liberation Sans" textLength="140.5" lengthAdjust="spacingAndGlyphs" stroke="#0b0b0b" stroke-width="0.5" stroke-linejoin="round" >(9:00 am - 11:30 am)</text>
<path d="M807,677.6 L815,677.6" stroke="#0b0b0b" stroke-width="0.9"/>
<text x="806.4" y="691.8" font-size="12" text-anchor="middle" fill="#0b0b0b" font-weight="bold" font-family="Liberation Sans" textLength="174.5" lengthAdjust="spacingAndGlyphs" stroke="#0b0b0b" stroke-width="0.5" stroke-linejoin="round" >Bergen Social Restaurant</text>
<path d="M719,693.8 L903.5,693.8" stroke="#0b0b0b" stroke-width="1"/>
<text x="806.4" y="708.5" font-size="14.4" text-anchor="middle" fill="#0b0b0b" font-weight="bold" font-family="Liberation Sans" textLength="232" lengthAdjust="spacingAndGlyphs" stroke="#0b0b0b" stroke-width="0.7" stroke-linejoin="round" >Women Litigators' Luncheon</text>
<text x="806.4" y="725" font-size="12" text-anchor="middle" fill="#0b0b0b" font-weight="bold" font-family="Liberation Sans" textLength="140.5" lengthAdjust="spacingAndGlyphs" stroke="#0b0b0b" stroke-width="0.5" stroke-linejoin="round" >(12:00 pm - 1:30 pm)</text>
<g transform="translate(18,762.9)">
<use href="#plan"/>
<rect x="191" y="228.2" width="268.3" height="170" fill="#cecae5"/>
<rect x="459.3" y="228.2" width="83.7" height="170" fill="#e7ccc8"/>
<path d="M459,228 L459,398" stroke="#000" stroke-width="2" stroke-dasharray="7,2.5" fill="none"/>
<polygon points="192.5,227.8 252.5,227.8 252.5,246 210.5,246 210.5,289 192.5,289" fill="#fff" stroke="#000" stroke-width="1.1"/>
<path d="M210.5,228.5 L210.5,245.5" stroke="#e4e4e4" stroke-width="1"/>
<text x="200.6" y="233.2" font-size="5" text-anchor="middle" fill="#d4472b" font-weight="normal">R</text>
<text x="200.6" y="237.9" font-size="5" text-anchor="middle" fill="#d4472b" font-weight="normal">E</text>
<text x="200.6" y="242.7" font-size="5" text-anchor="middle" fill="#d4472b" font-weight="normal">G</text>
<text x="200.6" y="247.4" font-size="5" text-anchor="middle" fill="#d4472b" font-weight="normal">I</text>
<text x="200.6" y="252.2" font-size="5" text-anchor="middle" fill="#d4472b" font-weight="normal">S</text>
<text x="200.6" y="256.9" font-size="5" text-anchor="middle" fill="#d4472b" font-weight="normal">T</text>
<text x="200.6" y="261.7" font-size="5" text-anchor="middle" fill="#d4472b" font-weight="normal">R</text>
<text x="200.6" y="266.4" font-size="5" text-anchor="middle" fill="#d4472b" font-weight="normal">A</text>
<text x="200.6" y="271.2" font-size="5" text-anchor="middle" fill="#d4472b" font-weight="normal">T</text>
<text x="200.6" y="275.9" font-size="5" text-anchor="middle" fill="#d4472b" font-weight="normal">I</text>
<text x="200.6" y="280.7" font-size="5" text-anchor="middle" fill="#d4472b" font-weight="normal">O</text>
<text x="200.6" y="285.4" font-size="5" text-anchor="middle" fill="#d4472b" font-weight="normal">N</text>
<rect x="448.5" y="206" width="121.5" height="20.6" fill="#fff"/>
<text x="505.90000000000003" y="221.2" font-size="14.6" text-anchor="middle" fill="#12529a" font-weight="bold" font-family="Liberation Sans" textLength="103.5" lengthAdjust="spacingAndGlyphs" stroke="#12529a" stroke-width="0.5" stroke-linejoin="round" >Diamond A/B</text>
<text x="381.6" y="660.1" font-size="22.4" text-anchor="middle" fill="#12529a" font-weight="bold" font-family="Liberation Sans" textLength="69.5" lengthAdjust="spacingAndGlyphs" stroke="#12529a" stroke-width="1.1" stroke-linejoin="round" >Derby</text>
<text x="380.6" y="686.1999999999999" font-size="22.4" text-anchor="middle" fill="#12529a" font-weight="bold" font-family="Liberation Sans" textLength="59.5" lengthAdjust="spacingAndGlyphs" stroke="#12529a" stroke-width="1.1" stroke-linejoin="round" >West</text>
<text x="504.8" y="660.1" font-size="22.4" text-anchor="middle" fill="#12529a" font-weight="bold" font-family="Liberation Sans" textLength="69.0" lengthAdjust="spacingAndGlyphs" stroke="#12529a" stroke-width="1.1" stroke-linejoin="round" >Derby</text>
<text x="504.40000000000003" y="686.1999999999999" font-size="22.4" text-anchor="middle" fill="#12529a" font-weight="bold" font-family="Liberation Sans" textLength="52.0" lengthAdjust="spacingAndGlyphs" stroke="#12529a" stroke-width="1.1" stroke-linejoin="round" >East</text>
<text x="970" y="123.8" font-size="13.8" text-anchor="middle" fill="#a7324d" font-weight="bold" font-family="Liberation Sans" textLength="93" lengthAdjust="spacingAndGlyphs" stroke="#a7324d" stroke-width="0.3" stroke-linejoin="round" >Second Floor</text>
<text x="866.8000000000001" y="152" font-size="9.4" text-anchor="middle" fill="#0f4f98" font-weight="bold" font-family="Liberation Sans" textLength="93.2" lengthAdjust="spacingAndGlyphs" stroke="#0f4f98" stroke-width="0.55" stroke-linejoin="round" >Pimlico&#160;&#160;Belmont</text>
<g transform="translate(986.02,167.9) rotate(45)"><text x="0" y="3.67" font-size="10.2" text-anchor="middle" fill="#0f4f98" font-weight="bold" font-family="Liberation Sans" textLength="56" lengthAdjust="spacingAndGlyphs" stroke="#0f4f98" stroke-width="0.55" stroke-linejoin="round" >Monmouth</text></g>
<text x="1007.24" y="261" font-size="7.8" text-anchor="middle" fill="#12529a" font-weight="bold" font-family="Liberation Sans" textLength="39.52" lengthAdjust="spacingAndGlyphs" stroke="#12529a" stroke-width="0.3" stroke-linejoin="round" >Aqueduct</text>
<text x="1006.74" y="307" font-size="7.8" text-anchor="middle" fill="#12529a" font-weight="bold" font-family="Liberation Sans" textLength="36.52" lengthAdjust="spacingAndGlyphs" stroke="#12529a" stroke-width="0.3" stroke-linejoin="round" >Churchill</text>
<text x="1006.74" y="316" font-size="7.8" text-anchor="middle" fill="#12529a" font-weight="bold" font-family="Liberation Sans" textLength="26.8" lengthAdjust="spacingAndGlyphs" stroke="#12529a" stroke-width="0.3" stroke-linejoin="round" >Downs</text>
<g transform="translate(818.4,341.3) rotate(44)"><text x="0" y="2.81" font-size="7.8" text-anchor="middle" fill="#1a5cae" font-weight="bold" font-family="Liberation Sans" textLength="33" lengthAdjust="spacingAndGlyphs" stroke="#1a5cae" stroke-width="0.4" stroke-linejoin="round" >Seminar</text></g>
<g transform="translate(811.6,348.8) rotate(44)"><text x="0" y="2.81" font-size="7.8" text-anchor="middle" fill="#1a5cae" font-weight="bold" font-family="Liberation Sans" textLength="23.5" lengthAdjust="spacingAndGlyphs" stroke="#1a5cae" stroke-width="0.4" stroke-linejoin="round" >Room</text></g>
<polygon points="819,450.5 875,502 835,544 781,490" fill="#a9a5d4"/>
<g transform="translate(832.3,489.6) rotate(43)"><text x="0" y="4.39" font-size="12.2" text-anchor="middle" fill="#111" font-weight="bold" font-family="Liberation Sans" textLength="59" lengthAdjust="spacingAndGlyphs" stroke="#111" stroke-width="0.55" stroke-linejoin="round" >NJAJ PAC</text></g>
<g transform="translate(821,500.8) rotate(43)"><text x="0" y="4.39" font-size="12.2" text-anchor="middle" fill="#111" font-weight="bold" font-family="Liberation Sans" textLength="45" lengthAdjust="spacingAndGlyphs" stroke="#111" stroke-width="0.55" stroke-linejoin="round" >Lounge</text></g>
<g transform="translate(800.6,526.6) rotate(43)"><text x="0" y="4.1" font-size="11.4" text-anchor="middle" fill="#125a9f" font-weight="bold" font-family="Liberation Sans" textLength="62.5" lengthAdjust="spacingAndGlyphs" stroke="#125a9f" stroke-width="0.5" stroke-linejoin="round" >Conference</text></g>
<g transform="translate(791.5,536.2) rotate(43)"><text x="0" y="4.1" font-size="11.4" text-anchor="middle" fill="#125a9f" font-weight="bold" font-family="Liberation Sans" textLength="52.5" lengthAdjust="spacingAndGlyphs" stroke="#125a9f" stroke-width="0.5" stroke-linejoin="round" >Room F/G</text></g>
<polygon points="930.5,227.6 981,227.6 981,342.6 935,342.6 921.5,330 921.5,238" fill="#ae2f48"/>
<polygon points="846,246 909,307.5 852.5,365 791,301" fill="#7a69b4"/>
<polygon points="813.6,170 920.5,170 920.5,222 910.5,232.4 824,232.4 813.6,222" fill="#10a4e4"/>
<rect x="327" y="481" width="216" height="133.8" fill="#c9ddd3"/>
<rect x="923" y="170" width="59" height="57.2" fill="#4a56a7"/>
<text x="324.5" y="310.5" font-size="16.2" text-anchor="middle" fill="#0b0b0b" font-weight="bold" font-family="Liberation Sans" textLength="110" lengthAdjust="spacingAndGlyphs" stroke="#0b0b0b" stroke-width="0.9" stroke-linejoin="round" >Exhibit Hall</text>
<text x="324.5" y="328" font-size="12" text-anchor="middle" fill="#0b0b0b" font-weight="bold" font-family="Liberation Sans" textLength="133" lengthAdjust="spacingAndGlyphs" stroke="#0b0b0b" stroke-width="0.55" stroke-linejoin="round" >(8:00 am - 2:00 pm)</text>
<text x="501.0" y="310.5" font-size="13" text-anchor="middle" fill="#0b0b0b" font-weight="bold" font-family="Liberation Sans" textLength="57.5" lengthAdjust="spacingAndGlyphs" stroke="#0b0b0b" stroke-width="0.6" stroke-linejoin="round" >Nursing</text>
<text x="501.0" y="327" font-size="13" text-anchor="middle" fill="#0b0b0b" font-weight="bold" font-family="Liberation Sans" textLength="42" lengthAdjust="spacingAndGlyphs" stroke="#0b0b0b" stroke-width="0.6" stroke-linejoin="round" >Home</text>
<text x="435.3" y="523" font-size="13" text-anchor="middle" fill="#0b0b0b" font-weight="bold" font-family="Liberation Sans" textLength="152" lengthAdjust="spacingAndGlyphs" stroke="#0b0b0b" stroke-width="0.6" stroke-linejoin="round" >Litigation at Sunrise</text>
<text x="435.0" y="538" font-size="11" text-anchor="middle" fill="#0b0b0b" font-weight="bold" font-family="Liberation Sans" textLength="118" lengthAdjust="spacingAndGlyphs" stroke="#0b0b0b" stroke-width="0.5" stroke-linejoin="round" >(6:30 am - 8:30 am)</text>
<text x="435.0" y="566.3" font-size="13" text-anchor="middle" fill="#0b0b0b" font-weight="bold" font-family="Liberation Sans" textLength="134" lengthAdjust="spacingAndGlyphs" stroke="#0b0b0b" stroke-width="0.6" stroke-linejoin="round" >Premises Liability</text>
<text x="435.0" y="581.3" font-size="11" text-anchor="middle" fill="#0b0b0b" font-weight="bold" font-family="Liberation Sans" textLength="118" lengthAdjust="spacingAndGlyphs" stroke="#0b0b0b" stroke-width="0.5" stroke-linejoin="round" >(9:00 am - 4:00 pm)</text>
<text x="866.8" y="178.3" font-size="9.9" text-anchor="middle" fill="#fff" font-weight="bold" font-family="Liberation Sans" textLength="88.8" lengthAdjust="spacingAndGlyphs" stroke="#fff" stroke-width="0.35" stroke-linejoin="round" >Expert Evidence</text>
<text x="866.7" y="190" font-size="10.4" text-anchor="middle" fill="#fff" font-weight="normal" font-family="Liberation Sans" textLength="94" lengthAdjust="spacingAndGlyphs" >(9:00 am - 12:00 pm)</text>
<text x="866.7" y="202" font-size="9.9" text-anchor="middle" fill="#fff" font-weight="bold" font-family="Liberation Sans" textLength="66.5" lengthAdjust="spacingAndGlyphs" stroke="#fff" stroke-width="0.35" stroke-linejoin="round" >Black Letter</text>
<text x="866.8" y="214" font-size="9.9" text-anchor="middle" fill="#fff" font-weight="bold" font-family="Liberation Sans" textLength="51.3" lengthAdjust="spacingAndGlyphs" stroke="#fff" stroke-width="0.35" stroke-linejoin="round" >Briefcase</text>
<text x="866.1" y="226.3" font-size="10.4" text-anchor="middle" fill="#fff" font-weight="normal" font-family="Liberation Sans" textLength="88.8" lengthAdjust="spacingAndGlyphs" >(1:00 pm - 4:00 pm)</text>
<g transform="translate(964.3,287) rotate(90)"><text x="0" y="4.18" font-size="11.6" text-anchor="middle" fill="#fff" font-weight="bold" font-family="Liberation Sans" textLength="49" lengthAdjust="spacingAndGlyphs" stroke="#fff" stroke-width="0.35" stroke-linejoin="round" >Workers'</text></g>
<g transform="translate(952.3,286.5) rotate(90)"><text x="0" y="4.18" font-size="11.6" text-anchor="middle" fill="#fff" font-weight="bold" font-family="Liberation Sans" textLength="77" lengthAdjust="spacingAndGlyphs" stroke="#fff" stroke-width="0.35" stroke-linejoin="round" >Compensation</text></g>
<g transform="translate(865.5,290.8) rotate(44.5)"><text x="0" y="4.18" font-size="11.6" text-anchor="middle" fill="#fff" font-weight="bold" font-family="Liberation Sans" textLength="45" lengthAdjust="spacingAndGlyphs" stroke="#fff" stroke-width="0.35" stroke-linejoin="round" >Media &amp;</text></g>
<g transform="translate(855.5,300.8) rotate(44.5)"><text x="0" y="4.18" font-size="11.6" text-anchor="middle" fill="#fff" font-weight="bold" font-family="Liberation Sans" textLength="62" lengthAdjust="spacingAndGlyphs" stroke="#fff" stroke-width="0.35" stroke-linejoin="round" >Technology</text></g>
<g transform="translate(843,309.5) rotate(44.5)"><text x="0" y="4.18" font-size="11.6" text-anchor="middle" fill="#f3f0fa" font-weight="normal" font-family="Liberation Sans" textLength="50" lengthAdjust="spacingAndGlyphs" >(9:00 am -</text></g>
<g transform="translate(834,322) rotate(44.5)"><text x="0" y="4.18" font-size="11.6" text-anchor="middle" fill="#f3f0fa" font-weight="normal" font-family="Liberation Sans" textLength="50" lengthAdjust="spacingAndGlyphs" >12:00 pm)</text></g>
</g>
<text x="411.5" y="851.1999999999999" font-size="14.6" text-anchor="middle" fill="#12529a" font-weight="bold" font-family="Liberation Sans" textLength="474" lengthAdjust="spacingAndGlyphs" stroke="#12529a" stroke-width="0.45" stroke-linejoin="round" >New Jersey Association for Justice Educational Foundation</text>
<text x="410.5" y="875.4" font-size="20" text-anchor="middle" fill="#12529a" font-weight="bold" font-family="Liberation Sans" textLength="363" lengthAdjust="spacingAndGlyphs" stroke="#12529a" stroke-width="0.45" stroke-linejoin="round" >MEADOWLANDS SEMINAR 2018</text>
<text x="411.2" y="899.0999999999999" font-size="15.6" text-anchor="middle" fill="#12529a" font-weight="bold" font-family="Liberation Sans" textLength="214.5" lengthAdjust="spacingAndGlyphs" stroke="#12529a" stroke-width="0.45" stroke-linejoin="round" >Friday, November 16, 2018</text>
<text x="410.5" y="919.9" font-size="16.4" text-anchor="middle" fill="#12529a" font-weight="bold" font-family="Liberation Sans" textLength="295" lengthAdjust="spacingAndGlyphs" stroke="#12529a" stroke-width="0.45" stroke-linejoin="round" >HILTON MEADOWLANDS HOTEL</text>
<rect x="673.6" y="1335.6" width="304.8" height="158.4" fill="#c27a7d"/>
<text x="827" y="1389.6" font-size="21.5" text-anchor="middle" fill="#0b0b0b" font-weight="bold" font-family="Liberation Sans" textLength="103" lengthAdjust="spacingAndGlyphs" stroke="#0b0b0b" stroke-width="1.6" stroke-linejoin="round" >1st Floor</text>
<text x="826.5" y="1401.6" font-size="11" text-anchor="middle" fill="#0b0b0b" font-weight="bold" font-family="Liberation Sans" textLength="158" lengthAdjust="spacingAndGlyphs" stroke="#0b0b0b" stroke-width="0.45" stroke-linejoin="round" >Bergen Social Restaurant</text>
<path d="M747,1403.4 L913,1403.4" stroke="#0b0b0b" stroke-width="1"/>
<text x="826.3" y="1417" font-size="13" text-anchor="middle" fill="#0b0b0b" font-weight="bold" font-family="Liberation Sans" textLength="227.5" lengthAdjust="spacingAndGlyphs" stroke="#0b0b0b" stroke-width="0.6" stroke-linejoin="round" >Minority Trial Lawyers Caucus</text>
<text x="826.3" y="1432.5" font-size="13" text-anchor="middle" fill="#0b0b0b" font-weight="bold" font-family="Liberation Sans" textLength="72.6" lengthAdjust="spacingAndGlyphs" stroke="#0b0b0b" stroke-width="0.6" stroke-linejoin="round" >Luncheon</text>
<text x="826.3" y="1445.4" font-size="11" text-anchor="middle" fill="#0b0b0b" font-weight="bold" font-family="Liberation Sans" textLength="125.5" lengthAdjust="spacingAndGlyphs" stroke="#0b0b0b" stroke-width="0.5" stroke-linejoin="round" >(12:00 pm - 1:30 pm)</text>
<path d="M66,1515.8 L1134,1515.8" stroke="#4a4a4a" stroke-width="1.3"/>
<text x="66" y="1530" font-size="14.8" text-anchor="start" fill="#222" font-weight="normal" font-family="Liberation Serif" textLength="459" lengthAdjust="spacingAndGlyphs" >WORKPLACE INJURY &amp; 2018 NJAJ MEADOWLANDS SEMINAR GUIDE</text>
<text x="1133.6" y="1530" font-size="14.8" text-anchor="end" fill="#222" font-weight="normal" font-family="Liberation Serif" textLength="36" lengthAdjust="spacingAndGlyphs" >SS-25</text>
</svg>
</body></html>
